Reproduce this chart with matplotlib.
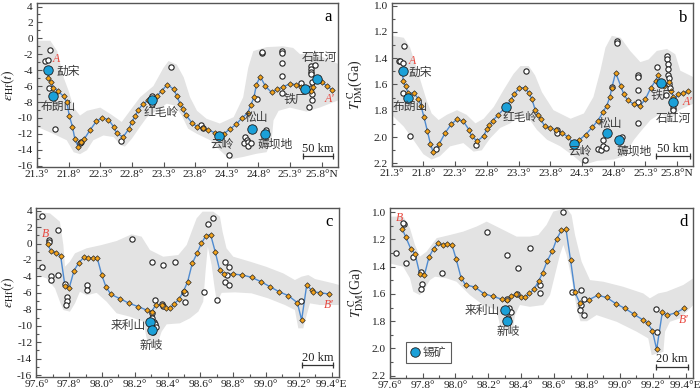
import matplotlib
matplotlib.use("Agg")
import matplotlib.pyplot as plt
from matplotlib.lines import Line2D
import numpy as np

plt.rcParams['font.family'] = ['Liberation Serif', 'DejaVu Serif']
plt.rcParams['mathtext.fontset'] = 'stix'
plt.rcParams['axes.unicode_minus'] = False

CJK = ['Noto Sans CJK SC', 'DejaVu Sans']

# ---------------- profile A-A' (latitude) ----------------
a_lat = [21.47, 21.48, 21.52, 21.56, 21.63, 21.72, 21.77, 21.81, 21.86, 21.90,
         21.95, 21.99, 22.05, 22.14, 22.24, 22.33, 22.43, 22.51, 22.56, 22.66,
         22.75, 22.80, 22.85, 22.90, 22.98, 23.06, 23.12, 23.19, 23.27, 23.36,
         23.46, 23.51, 23.56, 23.61, 23.65, 23.75, 23.83, 23.92, 24.01, 24.12,
         24.17, 24.25, 24.35, 24.45, 24.54, 24.63, 24.68, 24.73, 24.77, 24.83,
         24.91, 25.01, 25.10, 25.19, 25.30, 25.39, 25.48, 25.54, 25.63, 25.67,
         25.72, 25.80, 25.89, 25.97]
a_ehf = [-4.0, -5.0, -5.5, -6.2, -6.6, -7.3, -8.0, -9.7, -11.1, -12.7,
         -13.6, -13.0, -12.6, -11.5, -10.4, -10.0, -10.2, -11.1, -11.9, -12.4,
         -11.4, -10.5, -9.8, -9.0, -8.2, -7.8, -7.7, -7.3, -6.6, -5.8,
         -6.4, -7.2, -8.2, -8.9, -9.6, -10.6, -11.1, -11.3, -11.5, -11.9,
         -12.3, -12.0, -11.4, -10.8, -10.0, -9.4, -8.4, -7.4, -5.8, -4.8,
         -6.0, -6.8, -6.4, -6.1, -5.7, -5.8, -6.1, -6.4, -6.6, -6.1,
         -5.1, -5.5, -6.0, -6.5]
a_open_lat = [21.42, 21.48, 21.50, 21.49, 21.59, 21.98, 22.00, 22.63, 23.12, 23.12,
              23.42, 23.90, 23.93, 24.33, 24.59, 24.62, 24.58, 24.64, 24.63, 24.69,
              24.78, 24.85, 24.85, 24.92, 25.18, 25.18, 25.18, 25.18, 25.18, 25.48,
              25.60, 25.64, 25.64, 25.64, 25.64, 25.65, 25.64, 25.65, 25.65, 25.70]
a_open_ehf = [-2.85, -2.77, -1.52, -6.25, -11.35, -13.2, -13.0, -12.9, -7.2, -8.2,
              -3.6, -10.9, -11.25, -14.7, -12.4, -12.8, -13.1, -13.0, -13.55, -13.1,
              -7.6, -1.9, -1.7, -11.55, -1.6, -1.8, -3.1, -4.7, -6.9, -5.6,
              -8.6, -3.5, -3.9, -4.2, -4.5, -5.5, -6.2, -7.0, -7.7, -3.4]
a_ore_lat = [21.47, 21.55, 23.12, 24.17, 24.70, 24.90, 25.54, 25.72]
a_ore_ehf = [-4.0, -7.2, -7.7, -12.3, -11.4, -12.0, -6.4, -5.1]
a_env_lat = [21.30, 21.51, 21.62, 21.72, 21.80, 21.88, 21.98, 22.09, 22.30, 22.46,
             22.64, 22.77, 22.93, 23.14, 23.30, 23.38, 23.51, 23.62, 23.72, 23.83,
             23.98, 24.19, 24.41, 24.56, 24.64, 24.72, 24.93, 25.19, 25.35, 25.46,
             25.67, 25.83, 26.06,
             26.06, 25.77, 25.56, 25.30, 25.12, 25.04, 25.01, 24.93, 24.77, 24.56,
             24.35, 24.19, 24.04, 23.83, 23.69, 23.59, 23.48, 23.35, 23.19, 23.04,
             22.93, 22.80, 22.69, 22.62, 22.51, 22.35, 22.19, 22.09, 21.98, 21.88,
             21.77, 21.56, 21.30]
a_env_ehf = [-0.3, -0.3, -1.6, -4.9, -6.6, -8.7, -9.7, -9.1, -8.7, -9.5,
             -10.5, -9.1, -7.4, -6.0, -3.7, -2.85, -3.3, -4.9, -7.4, -9.1,
             -10.1, -10.7, -9.9, -7.4, -3.7, -1.6, -1.1, -1.0, -1.2, -2.0,
             -1.8, -2.4, -3.2,
             -7.8, -8.7, -9.2, -8.7, -9.1, -10.3, -12.8, -14.3, -14.5, -14.9,
             -15.2, -14.05, -12.8, -12.0, -11.35, -9.7, -8.45, -8.2, -9.1, -9.9,
             -11.1, -12.6, -13.6, -13.4, -12.4, -12.2, -12.8, -14.05, -14.55, -14.3,
             -12.8, -12.0, -11.1]

b_lat = [21.47, 21.48, 21.52, 21.56, 21.65, 21.72, 21.76, 21.81, 21.86, 21.91,
         21.95, 22.05, 22.14, 22.24, 22.33, 22.43, 22.52, 22.56, 22.65, 22.75,
         22.80, 22.84, 22.89, 22.98, 23.10, 23.18, 23.23, 23.31, 23.40, 23.46,
         23.51, 23.56, 23.61, 23.65, 23.71, 23.80, 23.89, 23.98, 24.08, 24.17,
         24.26, 24.36, 24.46, 24.55, 24.63, 24.69, 24.74, 24.77, 24.83, 24.91,
         24.96, 25.02, 25.12, 25.21, 25.30, 25.38, 25.46, 25.50, 25.55, 25.60,
         25.67, 25.71, 25.74, 25.74, 25.82, 25.89, 25.97]
b_tdm = [1.50, 1.575, 1.615, 1.665, 1.665, 1.71, 1.76, 1.85, 1.95, 2.05,
         2.11, 2.05, 1.97, 1.90, 1.865, 1.88, 1.945, 1.995, 2.03, 1.99,
         1.94, 1.91, 1.875, 1.83, 1.77, 1.715, 1.675, 1.625, 1.625, 1.665,
         1.71, 1.79, 1.83, 1.865, 1.915, 1.93, 1.945, 1.965, 2.00, 2.05,
         2.02, 1.98, 1.925, 1.875, 1.81, 1.76, 1.695, 1.625, 1.51, 1.61,
         1.675, 1.72, 1.75, 1.765, 1.71, 1.63, 1.57, 1.53, 1.59, 1.615,
         1.58, 1.65, 1.695, 1.73, 1.67, 1.665, 1.65]
b_open_lat = [21.42, 21.43, 21.48, 21.50, 21.48, 21.59, 22.00, 22.63, 23.42, 23.90,
              23.91, 24.34, 24.56, 24.60, 24.63, 24.63, 24.68, 24.78, 24.85, 24.85,
              24.93, 25.18, 25.18, 25.18, 25.19, 25.19, 25.49, 25.64, 25.64, 25.65,
              25.66, 25.66, 25.67, 25.67, 25.68, 25.63, 25.74, 25.74]
b_open_tdm = [1.42, 1.425, 1.44, 1.31, 1.665, 1.995, 2.09, 2.06, 1.50, 1.945,
              1.965, 2.17, 2.09, 2.10, 2.07, 2.02, 2.08, 1.62, 1.27, 1.285,
              2.00, 1.53, 1.54, 1.64, 1.73, 1.89, 1.465, 1.38, 1.41, 1.445,
              1.48, 1.525, 1.55, 1.595, 1.625, 1.68, 1.775, 1.79]
b_ore_lat = [21.47, 21.55, 23.10, 24.17, 24.69, 24.89, 25.55, 25.74]
b_ore_tdm = [1.50, 1.70, 1.77, 2.05, 1.965, 2.025, 1.59, 1.73]
b_env_lat = [21.30, 21.49, 21.59, 21.69, 21.77, 21.85, 21.93, 22.04, 22.17, 22.33,
             22.48, 22.62, 22.75, 22.91, 23.06, 23.22, 23.33, 23.46, 23.56, 23.67,
             23.85, 24.12, 24.33, 24.48, 24.59, 24.67, 24.77, 24.91, 25.06, 25.22,
             25.35, 25.48, 25.64, 25.77, 25.85, 26.06,
             26.06, 25.83, 25.69, 25.54, 25.38, 25.22, 25.12, 24.96, 24.80, 24.54,
             24.33, 24.17, 23.96, 23.75, 23.59, 23.48, 23.33, 23.17, 23.01, 22.85,
             22.72, 22.59, 22.43, 22.22, 22.06, 21.93, 21.80, 21.64, 21.49, 21.30]
b_env_tdm = [1.23, 1.245, 1.32, 1.47, 1.595, 1.72, 1.82, 1.87, 1.83, 1.795,
             1.83, 1.895, 1.86, 1.77, 1.645, 1.52, 1.46, 1.46, 1.53, 1.66,
             1.795, 1.86, 1.82, 1.695, 1.495, 1.32, 1.23, 1.245, 1.345, 1.43,
             1.41, 1.345, 1.33, 1.37, 1.495, 1.545,
             1.745, 1.795, 1.87, 1.82, 1.87, 1.96, 2.02, 2.145, 2.17, 2.18,
             2.21, 2.145, 2.07, 2.02, 1.945, 1.87, 1.83, 1.895, 1.93, 2.01,
             2.10, 2.11, 2.045, 2.07, 2.145, 2.17, 2.13, 2.02, 1.92, 1.83]

# ---------------- profile B-B' (longitude) ----------------
c_lon = [97.668, 97.688, 97.719, 97.747, 97.774, 97.800, 97.829, 97.857, 97.888, 97.916,
         97.945, 97.971, 97.999, 98.024, 98.054, 98.109, 98.166, 98.221, 98.276, 98.302,
         98.327, 98.363, 98.388, 98.414, 98.440, 98.469, 98.497, 98.522, 98.550, 98.581,
         98.605, 98.634, 98.662, 98.691, 98.717, 98.745, 98.800, 98.855, 98.912, 98.969,
         99.024, 99.079, 99.136, 99.191, 99.217, 99.248, 99.278, 99.284, 99.329, 99.384]
c_ehf = [-0.06, -0.87, -1.11, -1.48, -5.17, -5.37, -3.30, -2.37, -1.68, -1.80,
         -1.72, -1.80, -3.87, -5.29, -6.18, -6.71, -7.28, -7.68, -8.13, -8.29,
         -7.48, -7.48, -7.81, -7.89, -7.32, -6.79, -5.78, -4.64, -2.41, -1.11,
         0.02, 0.96, 1.08, -1.07, -3.22, -3.75, -3.71, -3.83, -4.11, -4.64,
         -5.25, -5.86, -6.34, -7.20, -9.31, -5.05, -5.70, -5.86, -5.98, -6.14]
c_open_lon = [97.636, 97.632, 97.676, 97.676, 97.733, 97.733, 97.688, 97.688, 97.776, 97.784,
              97.784, 97.778, 97.910, 97.910, 98.180, 98.307, 98.369, 98.444, 98.323, 98.367,
              98.373, 98.302, 98.307, 98.317, 98.323, 98.313, 98.308, 98.327, 98.500, 98.505,
              98.505, 98.621, 98.699, 98.648, 98.678, 98.750, 98.776, 98.760, 98.750, 98.776,
              99.211]
c_open_ehf = [3.35, -2.90, 0.43, 0.19, 1.65, -3.83, -3.91, -4.44, -4.93, -6.47,
              -6.95, -7.48, -5.09, -5.66, 0.51, -2.29, -2.57, -2.29, -6.87, -7.40,
              -7.60, -8.49, -9.10, -9.51, -9.83, -10.32, -10.73, -10.10, -5.85, -6.06,
              -7.07, -5.94, -6.87, 2.34, 3.07, -2.21, -2.90, -3.83, -4.64, -5.05,
              -6.99]
c_ore_lon = [98.292, 98.306]
c_ore_ehf = [-9.59, -10.52]
c_env_lon = [97.600, 97.682, 97.743, 97.764, 97.774, 97.804, 97.835, 97.906, 97.997, 98.089,
             98.180, 98.241, 98.292, 98.373, 98.465, 98.516, 98.546, 98.577, 98.613, 98.678,
             98.719, 98.735, 98.759, 98.800, 98.902, 99.000, 99.105, 99.176, 99.217, 99.258,
             99.299, 99.410, 99.447,
             99.447, 99.329, 99.268, 99.248, 99.227, 99.197, 99.176, 99.115, 99.013, 98.912,
             98.810, 98.729, 98.700, 98.684, 98.668, 98.645, 98.631, 98.617, 98.587, 98.536,
             98.475, 98.394, 98.363, 98.343, 98.302, 98.272, 98.252, 98.170, 98.089, 98.028,
             97.967, 97.906, 97.865, 97.835, 97.804, 97.764, 97.743, 97.713, 97.662, 97.600]
c_env_ehf = [3.80, 3.68, 2.66, -0.18, -2.82, -2.20, -1.19, -0.58, -0.18, 0.31,
             1.12, 0.84, -0.79, -1.60, -1.40, -0.18, 1.44, 3.07, 3.88, 3.88,
             3.27, 1.44, -0.58, -1.60, -2.20, -2.82, -3.63, -4.44, -4.03, -3.83,
             -4.32, -4.84, -5.05,
             -7.48, -7.48, -7.28, -8.70, -10.32, -10.32, -8.09, -7.48, -6.67, -6.06,
             -5.94, -6.00, -7.20, -5.05, -2.61, -0.40, -3.42, -7.07, -8.29, -9.10,
             -9.71, -9.83, -10.73, -11.94, -12.27, -11.54, -9.51, -8.90, -8.49, -7.08,
             -6.00, -6.30, -5.86, -7.28, -8.29, -8.09, -7.08, -5.45, -4.24, -3.83]

d_lon = [97.677, 97.697, 97.728, 97.754, 97.784, 97.811, 97.839, 97.867, 97.896, 97.922,
         97.951, 97.979, 98.005, 98.034, 98.062, 98.119, 98.173, 98.230, 98.285, 98.311,
         98.338, 98.368, 98.396, 98.423, 98.449, 98.477, 98.506, 98.530, 98.558, 98.589,
         98.615, 98.644, 98.672, 98.700, 98.727, 98.757, 98.812, 98.864, 98.919, 98.976,
         99.031, 99.087, 99.142, 99.168, 99.197, 99.223, 99.258, 99.284, 99.339, 99.389]
d_tdm = [1.123, 1.179, 1.267, 1.304, 1.456, 1.463, 1.331, 1.267, 1.225, 1.240,
         1.230, 1.240, 1.346, 1.480, 1.534, 1.549, 1.598, 1.618, 1.640, 1.647,
         1.613, 1.603, 1.625, 1.623, 1.596, 1.566, 1.505, 1.444, 1.358, 1.284,
         1.199, 1.132, 1.125, 1.353, 1.588, 1.669, 1.642, 1.610, 1.625, 1.672,
         1.706, 1.750, 1.792, 1.814, 1.868, 2.007, 1.730, 1.757, 1.738, 1.706]
d_open_lon = [97.687, 97.683, 97.638, 97.697, 97.740, 97.788, 97.795, 97.790, 97.920, 98.190,
              98.315, 98.378, 98.453, 98.372, 98.514, 98.514, 98.652, 98.706, 98.761, 98.761,
              98.757, 98.783, 98.783, 99.217, 99.223, 98.315, 98.327, 98.336, 98.321, 98.321]
d_open_tdm = [1.088, 1.078, 1.297, 1.370, 1.331, 1.436, 1.529, 1.566, 1.449, 1.142,
              1.314, 1.412, 1.260, 1.603, 1.534, 1.596, 1.000, 1.583, 1.571, 1.681,
              1.718, 1.637, 1.755, 1.713, 1.877, 1.637, 1.706, 1.735, 1.779, 1.804]
d_ore_lon = [98.301, 98.315]
d_ore_tdm = [1.718, 1.799]
d_env_lon = [97.600, 97.683, 97.724, 97.754, 97.784, 97.825, 97.886, 97.967, 98.048, 98.129,
             98.190, 98.250, 98.311, 98.372, 98.453, 98.504, 98.554, 98.595, 98.676, 98.706,
             98.727, 98.767, 98.818, 98.899, 99.020, 99.142, 99.182, 99.233, 99.284, 99.385,
             99.446,
             99.446, 99.365, 99.304, 99.274, 99.264, 99.193, 99.172, 99.102, 98.980, 98.858,
             98.800, 98.760, 98.737, 98.706, 98.676, 98.656, 98.635, 98.605, 98.575, 98.534,
             98.453, 98.392, 98.362, 98.352, 98.311, 98.271, 98.250, 98.169, 98.088, 98.007,
             97.946, 97.876, 97.845, 97.815, 97.784, 97.744, 97.724, 97.683, 97.600]
d_env_tdm = [1.032, 1.032, 1.118, 1.240, 1.326, 1.289, 1.190, 1.167, 1.142, 1.105,
             1.069, 1.105, 1.142, 1.179, 1.179, 1.167, 1.093, 0.995, 0.970, 1.020,
             1.167, 1.363, 1.498, 1.510, 1.547, 1.596, 1.632, 1.596, 1.583, 1.534,
             1.485,
             1.681, 1.779, 1.804, 1.877, 2.025, 2.049, 1.926, 1.877, 1.804, 1.755,
             1.800, 1.800, 1.700, 1.485, 1.314, 1.240, 1.314, 1.461, 1.608, 1.681,
             1.694, 1.681, 1.755, 1.841, 1.865, 1.828, 1.718, 1.681, 1.608, 1.510,
             1.485, 1.473, 1.498, 1.559, 1.608, 1.583, 1.485, 1.400, 1.375]

lat_ticks = [21.3, 21.8, 22.3, 22.8, 23.3, 23.8, 24.3, 24.8, 25.3, 25.8]
lon_ticks = [97.6, 97.8, 98.0, 98.2, 98.4, 98.6, 98.8, 99.0, 99.2, 99.4]

RED = '#e8453c'
TXT = '#3a3a3a'


def draw_panel(ax, ex, ey, lx, ly, ox, oy, px, py):
    ax.fill(ex, ey, color='#e3e3e3', lw=0, zorder=0)
    ax.plot(lx, ly, color='#4f8bd0', lw=1.0, zorder=2)
    ax.plot(ox, oy, ls='none', marker='o', ms=3.8, mfc='white', mec='#222222', mew=0.8, zorder=3)
    ax.plot(lx, ly, ls='none', marker='D', ms=2.8, mfc='#f4a31a', mec='#262626', mew=0.5, zorder=4)
    ax.plot(px, py, ls='none', marker='o', ms=6.8, mfc='#1ba0d8', mec='#1a1a1a', mew=0.6, zorder=5)


def style_axes(ax, xlim, ylim, xt, xlab, xminor, yt, ylab, yminor):
    ax.set_xlim(*xlim)
    ax.set_ylim(*ylim)
    ax.set_xticks(xt)
    ax.set_xticklabels(xlab)
    if xminor is not None:
        ax.set_xticks(xminor, minor=True)
    ax.set_yticks(yt)
    ax.set_yticklabels(ylab)
    ax.set_yticks(yminor, minor=True)
    for s in ax.spines.values():
        s.set_color('#555555')
        s.set_linewidth(1.0)
    ax.tick_params(which='both', direction='in', color='#555555', labelcolor='#222222',
                   labelsize=8.2, top=False, right=False)
    ax.tick_params(which='major', length=3.5, width=0.8, pad=3)
    ax.tick_params(which='minor', length=2.5, width=0.8)
    ax.tick_params(axis='x', pad=2.5)


def cjk(ax, s, x, y, ha='center'):
    ax.text(x, y, s, family=CJK, fontsize=8.5, color=TXT, ha=ha, va='center', zorder=6)


def scale_bar(ax, x0, x1, y, ty, s):
    ax.plot([x0, x1], [y, y], color='#333333', lw=0.9, marker='|', ms=4, mew=0.9, zorder=6)
    ax.text((x0 + x1) / 2, ty, s, fontsize=9, color='#222222', ha='center', va='center')


fig = plt.figure(figsize=(7, 3.91), dpi=100)
ax_a = fig.add_axes([0.0529, 0.5729, 0.4300, 0.4194])
ax_b = fig.add_axes([0.5596, 0.5755, 0.4304, 0.4168])
ax_c = fig.add_axes([0.0521, 0.0358, 0.4322, 0.4315])
ax_d = fig.add_axes([0.5566, 0.0345, 0.4334, 0.4328])

lat_lab = ['%.1f°' % v for v in lat_ticks]
lat_lab[-1] += 'N'
lon_lab = ['%.1f°' % v for v in lon_ticks]
lon_lab[-1] += 'E'
ehf_t = list(range(-16, 5, 2))
ehf_lab = ['%d' % v for v in ehf_t]
tdm_t = [1.0, 1.2, 1.4, 1.6, 1.8, 2.0, 2.2]
tdm_lab = ['%.1f' % v for v in tdm_t]

# panel a
draw_panel(ax_a, a_env_lat, a_env_ehf, a_lat, a_ehf, a_open_lat, a_open_ehf, a_ore_lat, a_ore_ehf)
style_axes(ax_a, (21.3, 26.06), (-16.16, 4.44), lat_ticks, lat_lab, None,
           ehf_t, ehf_lab, range(-16, 5))
ax_a.set_ylabel(r'$\varepsilon_{\rm Hf}(t)$', fontsize=10, color='#222222')
ax_a.yaxis.set_label_coords(-0.068, 0.5)
ax_a.text(21.60, -2.6, 'A', color=RED, style='italic', fontsize=8.5, ha='center', va='center')
cjk(ax_a, '勐宋', 21.61, -4.1, ha='left')
cjk(ax_a, '布朗山', 21.63, -8.6)
cjk(ax_a, '红毛岭', 23.27, -9.35)
cjk(ax_a, '云岭', 24.23, -13.3)
cjk(ax_a, '松山', 24.77, -10.0)
cjk(ax_a, '薅坝地', 25.06, -13.3)
cjk(ax_a, '铁厂', 25.39, -7.7)
cjk(ax_a, '石缸河', 25.76, -2.35)
ax_a.text(25.92, -7.65, "A'", color=RED, style='italic', fontsize=8.5, ha='center', va='center')
ax_a.text(0.967, 0.915, 'a', transform=ax_a.transAxes, fontsize=12, ha='center', va='center')
scale_bar(ax_a, 25.50, 25.98, -14.76, -13.9, '50 km')

# panel b
draw_panel(ax_b, b_env_lat, b_env_tdm, b_lat, b_tdm, b_open_lat, b_open_tdm, b_ore_lat, b_ore_tdm)
style_axes(ax_b, (21.3, 26.05), (2.219, 0.981), lat_ticks, lat_lab, None,
           tdm_t, tdm_lab, np.arange(1.0, 2.25, 0.1))
ax_b.set_ylabel(r'$T_{\rm DM}^{\ \rm C}$(Ga)', fontsize=10, color='#222222')
ax_b.yaxis.set_label_coords(-0.088, 0.5)
ax_b.text(21.62, 1.42, 'A', color=RED, style='italic', fontsize=8.5, ha='center', va='center')
cjk(ax_b, '勐宋', 21.56, 1.51, ha='left')
cjk(ax_b, '布朗山', 21.59, 1.77)
cjk(ax_b, '红毛岭', 23.33, 1.85)
cjk(ax_b, '云岭', 24.27, 2.11)
cjk(ax_b, '松山', 24.75, 1.895)
cjk(ax_b, '薅坝地', 25.12, 2.11)
cjk(ax_b, '铁厂', 25.57, 1.68)
cjk(ax_b, '石缸河', 25.74, 1.86)
ax_b.text(25.96, 1.73, "A'", color=RED, style='italic', fontsize=8.5, ha='center', va='center')
ax_b.text(0.967, 0.91, 'b', transform=ax_b.transAxes, fontsize=12, ha='center', va='center')
scale_bar(ax_b, 25.47, 26.0, 2.145, 2.09, '50 km')

# panel c
draw_panel(ax_c, c_env_lon, c_env_ehf, c_lon, c_ehf, c_open_lon, c_open_ehf, c_ore_lon, c_ore_ehf)
style_axes(ax_c, (97.6, 99.445), (-16.24, 4.29), lon_ticks, lon_lab, np.arange(97.6, 99.45, 0.1),
           ehf_t, ehf_lab, range(-16, 5))
ax_c.set_ylabel(r'$\varepsilon_{\rm Hf}(t)$', fontsize=10, color='#222222')
ax_c.yaxis.set_label_coords(-0.066, 0.5)
ax_c.text(97.656, 1.12, 'B', color=RED, style='italic', fontsize=8.5, ha='center', va='center')
cjk(ax_c, '来利山', 98.16, -10.0)
cjk(ax_c, '新岐', 98.302, -12.43)
ax_c.text(99.385, -7.48, "B'", color=RED, style='italic', fontsize=8.5, ha='center', va='center')
ax_c.text(0.967, 0.92, 'c', transform=ax_c.transAxes, fontsize=12, ha='center', va='center')
scale_bar(ax_c, 99.217, 99.41, -14.78, -13.97, '20 km')

# panel d
draw_panel(ax_d, d_env_lon, d_env_tdm, d_lon, d_tdm, d_open_lon, d_open_tdm, d_ore_lon, d_ore_tdm)
style_axes(ax_d, (97.6, 99.444), (2.213, 0.971), lon_ticks, lon_lab, np.arange(97.6, 99.45, 0.1),
           tdm_t, tdm_lab, np.arange(1.0, 2.25, 0.1))
ax_d.set_ylabel(r'$T_{\rm DM}^{\ \rm C}$(Ga)', fontsize=10, color='#222222')
ax_d.yaxis.set_label_coords(-0.078, 0.5)
ax_d.text(97.659, 1.04, 'B', color=RED, style='italic', fontsize=8.5, ha='center', va='center')
cjk(ax_d, '来利山', 98.16, 1.718)
cjk(ax_d, '新岐', 98.321, 1.877)
ax_d.text(99.39, 1.79, "B'", color=RED, style='italic', fontsize=8.5, ha='center', va='center')
ax_d.text(0.968, 0.917, 'd', transform=ax_d.transAxes, fontsize=12, ha='center', va='center')
scale_bar(ax_d, 99.219, 99.416, 2.135, 2.08, '20 km')

ore_handle = Line2D([], [], ls='none', marker='o', ms=6.8, mfc='#1ba0d8', mec='#1a1a1a', mew=0.6)
leg = ax_d.legend([ore_handle], ['锡矿'], loc='lower left', bbox_to_anchor=(0.054, 0.086),
                  borderaxespad=0, prop={'family': CJK, 'size': 8.5}, frameon=True,
                  fancybox=False, edgecolor='#333333', handlelength=0.8, handletextpad=0.3,
                  borderpad=0.35)
leg.get_frame().set_linewidth(0.8)
for t in leg.get_texts():
    t.set_color(TXT)

fig.savefig('out.png', dpi=100)
